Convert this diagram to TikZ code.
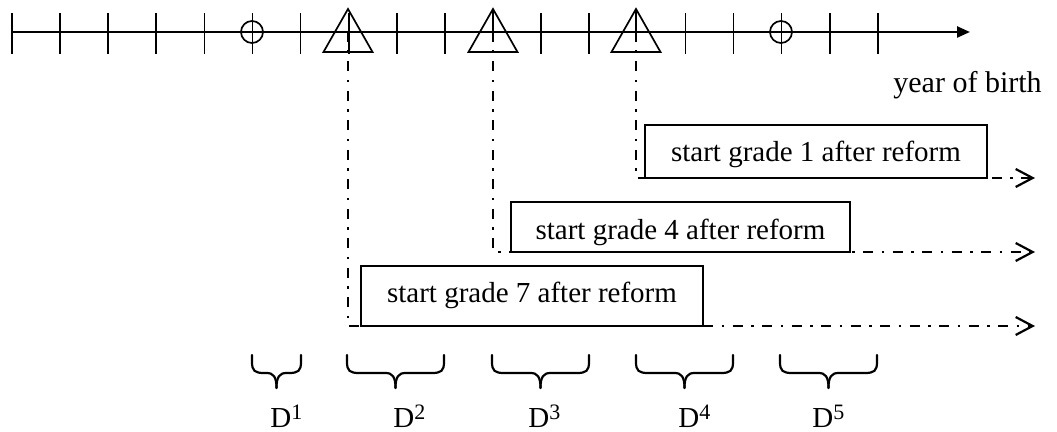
\documentclass[tikz,border=0pt]{standalone}
\usepackage{fontspec}
\setmainfont{Liberation Serif}
\usetikzlibrary{arrows.meta}
\newcommand\Dsup[1]{\raisebox{4.2pt}{\fontsize{11pt}{12pt}\selectfont #1}}
\begin{document}
\begin{tikzpicture}[x=0.5pt,y=-0.5pt,
  axisline/.style={line width=1.2pt},
  tickline/.style={line width=0.85pt},
  markline/.style={line width=0.85pt},
  dashdot/.style={line width=1.4pt, dash pattern=on 5pt off 4.25pt on 1.25pt off 4.25pt,
    -{Straight Barb[length=8.5pt,width=9pt,line width=1.1pt]}},
  reformbox/.style={draw, line width=0.6pt, fill=white, inner sep=0pt, text depth=0pt,
    font=\fontsize{14.5pt}{17pt}\selectfont},
  bracel/.style={line width=1.1pt, line cap=round},
  dlabel/.style={anchor=base west, inner sep=0pt, font=\fontsize{14.5pt}{17pt}\selectfont}
]
\useasboundingbox (0,0) rectangle (1057,432);

% axis
\coordinate (A0) at (12,32);
\coordinate (A1) at (970,32);
\draw[axisline,-{Triangle[length=6.5pt,width=5.5pt]}] (A0) -- (A1);

% ticks
\foreach \k in {0,...,18} {
  \pgfmathsetmacro\xx{12+48.1*\k}
  \ifnum\k=10\relax\else\ifnum\k=13\relax\else
    \draw[tickline] (\xx,13.5) -- (\xx,54);
  \fi\fi
}

% circles
\draw[markline] (252,32) circle[radius=11];
\draw[markline] (781,32) circle[radius=11];

% triangles
\foreach \t/\xx in {1/348,2/493,3/636} {
  \draw[markline] (\xx,9) -- (\xx-24.5,52) -- (\xx+24.5,52) -- cycle;
  \coordinate (T\t) at (\xx,32);
}
\draw[tickline] (493,9) -- (493,32);
\draw[tickline] (636,9) -- (636,32);

% arrow ends
\coordinate (E1) at (1035,178);
\coordinate (E2) at (1035,252);
\coordinate (E3) at (1035,326);

% dash-dot connectors
\draw[dashdot] (T3) |- (E1);
\draw[dashdot] (T2) |- (E2);
\draw[dashdot] (T1) |- (E3);

% boxes
\node[reformbox, minimum width=171pt, minimum height=26.5pt, text height=10.2pt] (B1) at (816,151.5) {start grade 1 after reform};
\node[reformbox, minimum width=169.5pt, minimum height=25pt, text height=13pt] (B2) at (680.5,227) {start grade 4 after reform};
\node[reformbox, minimum width=171pt, minimum height=30pt, text height=7pt] (B3) at (532,296) {start grade 7 after reform};

% axis label
\node[anchor=base west, inner sep=0pt, font=\fontsize{15pt}{18pt}\selectfont] (yob) at (893,93) {year of birth};

% braces
\foreach \a/\b in {252/301,347/444,492/589,636/733,780/877} {
  \pgfmathsetmacro\m{(\a+\b)/2}
  \draw[bracel] (\a,355) -- (\a,362) .. controls (\a,371) and (\a+3,373) .. (\a+12,373)
    -- (\m-10,373) .. controls (\m-3,373) and (\m,377) .. (\m,388);
  \draw[bracel] (\b,355) -- (\b,362) .. controls (\b,371) and (\b-3,373) .. (\b-12,373)
    -- (\m+10,373) .. controls (\m+3,373) and (\m,377) .. (\m,388);
}

% D labels
\node[dlabel] (D1) at (270,428) {D\Dsup{1}};
\node[dlabel] (D2) at (393,428) {D\Dsup{2}};
\node[dlabel] (D3) at (528,428) {D\Dsup{3}};
\node[dlabel] (D4) at (678,428) {D\Dsup{4}};
\node[dlabel] (D5) at (812,428) {D\Dsup{5}};
\end{tikzpicture}
\end{document}
